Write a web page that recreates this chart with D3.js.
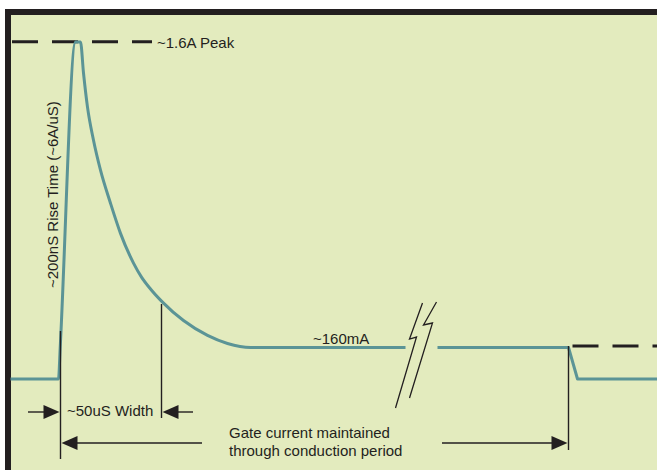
<!DOCTYPE html>
<html>
<head>
<meta charset="utf-8">
<script src="https://cdn.jsdelivr.net/npm/d3@7"></script>
<style>
body { margin: 0; background: #fff; }
text { font-family: "Liberation Sans", Arial, sans-serif; font-size: 15px; fill: #231f20; }
</style>
</head>
<body>
<svg id="chart" width="657" height="470"></svg>
<script>
// gate pulse, time in uS, current in A (schematic, not to scale)
const timeBefore = [-25, -1, -0.15, 7.5, 10, 11.5, 13.5, 16.5, 20, 25, 30, 36.5, 40.5, 45, 51, 61.5, 73.5, 83.5, 95, 172.5];
const currentBefore = [0, 0, 0.16, 1.6, 1.6, 1.454, 1.293, 1.137, 0.996, 0.84, 0.698, 0.558, 0.492, 0.436, 0.374, 0.287, 0.217, 0.179, 0.16, 0.16];
const timeAfter = [188.5, 254, 258.5, 300];
const currentAfter = [0.16, 0.16, 0, 0];

const levelLabels = ["~1.6A Peak", "~160mA"];
const peakLevel = 1.6, holdLevel = 0.16;
const widthStart = 0, widthEnd = 50.5, gateEnd = 254;
const breakStart = 172.5, breakEnd = 188.5;

const svg = d3.select("#chart");
const bg = "#e3ebbe", teal = "#5b9496", ink = "#231f20";

// frame
svg.append("rect").attr("x", 5).attr("y", 9).attr("width", 660).attr("height", 470).attr("fill", ink);
svg.append("rect").attr("x", 11).attr("y", 15).attr("width", 660).attr("height", 470).attr("fill", bg);

let x = d3.scaleLinear().domain([0, 50]).range([60.5, 160.5]);
let y = d3.scaleLinear().domain([0, 0.16, 1.6]).range([379, 347.5, 42]);

// dashed reference levels
svg.append("line")
    .attr("x1", 12).attr("x2", 152)
    .attr("y1", y(peakLevel) - 0.3).attr("y2", y(peakLevel) - 0.3)
    .attr("stroke", ink).attr("stroke-width", 3).attr("stroke-dasharray", "26,14");
svg.append("line")
    .attr("x1", x(gateEnd) + 4).attr("x2", 660)
    .attr("y1", y(holdLevel) - 1.5).attr("y2", y(holdLevel) - 1.5)
    .attr("stroke", ink).attr("stroke-width", 3).attr("stroke-dasharray", "26,14");

// marker lines
let marker = function(t, y1, y2) {
    svg.append("line").attr("x1", x(t)).attr("x2", x(t)).attr("y1", y1).attr("y2", y2)
        .attr("stroke", ink).attr("stroke-width", 1.4);
};

// pulse
let line = d3.line().x(function(d) { return x(d[0]); }).y(function(d) { return y(d[1]); });
svg.append("path")
    .datum(d3.zip(timeBefore, currentBefore))
    .attr("d", line.curve(d3.curveMonotoneX))
    .attr("fill", "none").attr("stroke", teal).attr("stroke-width", 3);
svg.append("path")
    .datum(d3.zip(timeAfter, currentAfter))
    .attr("d", line.curve(d3.curveLinear))
    .attr("fill", "none").attr("stroke", teal).attr("stroke-width", 3).attr("stroke-linejoin", "round");

marker(widthStart, 331, 459);
marker(widthEnd, 304, 418);
marker(gateEnd, 346, 450);

// break symbol
let bx = x(breakStart);
let bolt = [
    [[bx + 17, 303], [bx + 4, 339], [bx + 11, 337], [bx - 10, 408]],
    [[bx + 31, 302], [bx + 18, 325], [bx + 27, 323], [bx + 4, 398]]
];
svg.selectAll(".bolt").data(bolt).enter().append("path")
    .attr("class", "bolt")
    .attr("d", d3.line())
    .attr("fill", "none").attr("stroke", ink).attr("stroke-width", 1.3);

// arrows
let arrowHead = function(tipX, yy, dir) {
    // dir = 1 points right, -1 points left
    let b = tipX - dir * 16;
    svg.append("path")
        .attr("d", "M" + tipX + "," + yy + "L" + b + "," + (yy - 7) + "L" + b + "," + (yy + 7) + "Z")
        .attr("fill", ink);
};
let hline = function(x1, x2, yy) {
    svg.append("line").attr("x1", x1).attr("x2", x2).attr("y1", yy).attr("y2", yy)
        .attr("stroke", ink).attr("stroke-width", 1.4);
};
hline(28, x(widthStart) - 10, 412);
arrowHead(x(widthStart) - 1, 412, 1);
hline(x(widthEnd) + 10, 193, 412);
arrowHead(x(widthEnd) + 1, 412, -1);
hline(x(widthStart) + 10, 202, 443);
arrowHead(x(widthStart) + 1, 443, -1);
hline(442, x(gateEnd) - 10, 443);
arrowHead(x(gateEnd) - 1, 443, 1);

// labels
svg.append("text").attr("x", 157).attr("y", 48).text(levelLabels[0]);
svg.append("text").attr("x", 313).attr("y", 344).text(levelLabels[1]);
svg.append("text").attr("x", 67).attr("y", 416).text("~50uS Width");
svg.append("text").attr("x", 229).attr("y", 438).text("Gate current maintained");
svg.append("text").attr("x", 229).attr("y", 456).text("through conduction period");
svg.append("text")
    .attr("transform", "translate(57.5,288) rotate(-90)")
    .text("~200nS Rise Time (~6A/uS)");
</script>
</body>
</html>
